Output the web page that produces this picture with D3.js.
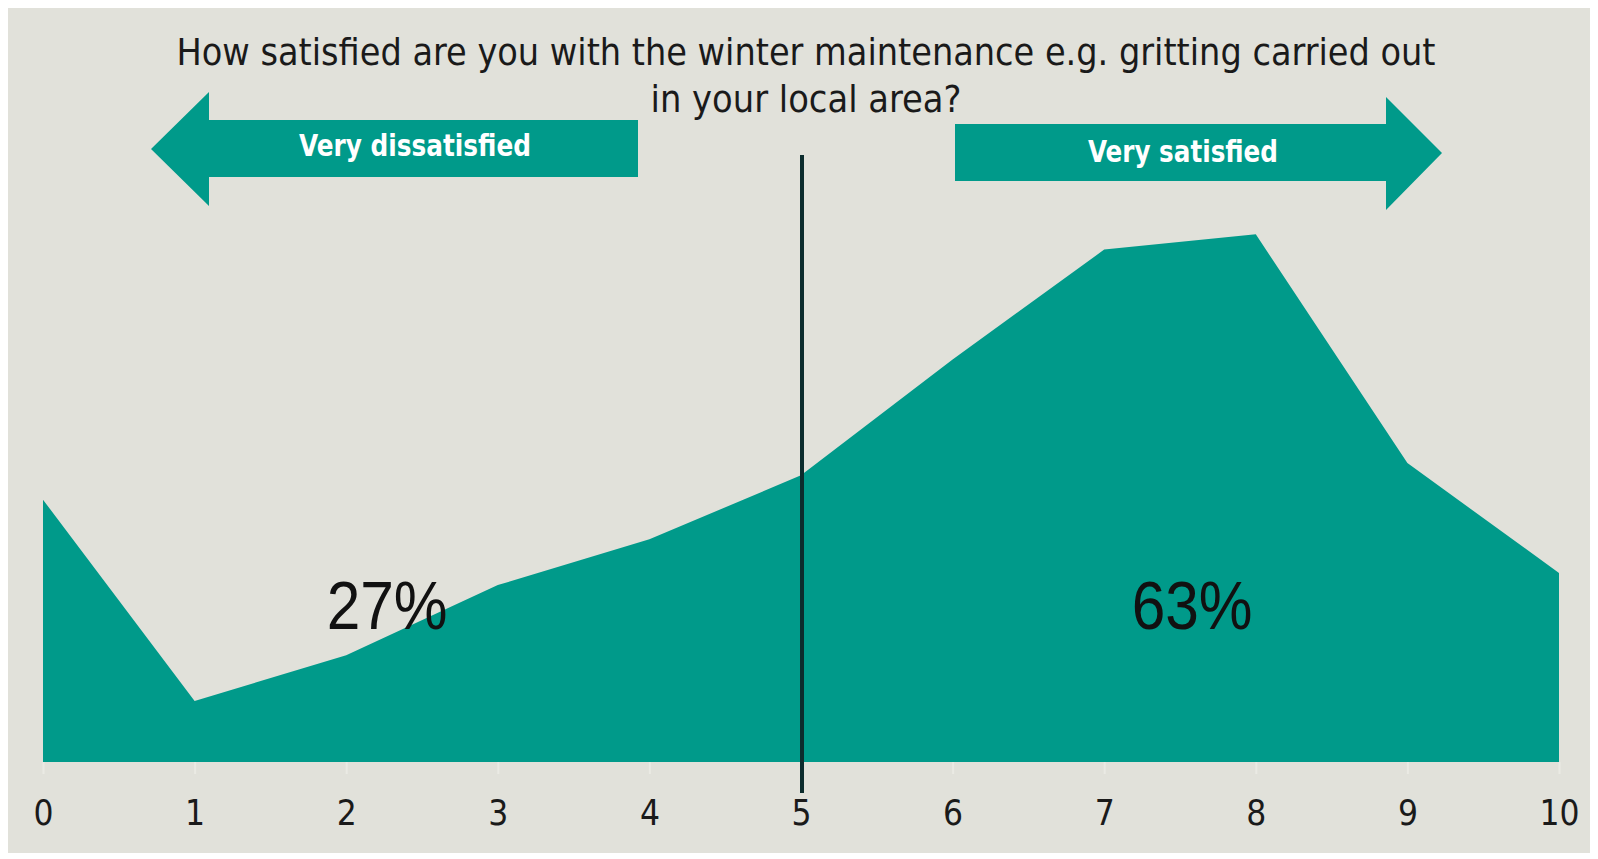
<!DOCTYPE html>
<html>
<head>
<meta charset="utf-8">
<script src="https://cdn.jsdelivr.net/npm/d3@7"></script>
<style>
    body { margin: 0; background: #ffffff; }
    svg { display: block; }
</style>
</head>
<body>
<div id="plot"></div>
<script>
"use strict";

// satisfaction score 0..10 and the share of answers at each score (%)
const scores = [0, 1, 2, 3, 4, 5, 6, 7, 8, 9, 10];
const shares = [8.6, 2.0, 3.5, 5.8, 7.3, 9.4, 13.2, 16.8, 17.3, 9.8, 6.2];
const tickLabels = ["0", "1", "2", "3", "4", "5", "6", "7", "8", "9", "10"];
const titleLines = [
    "How satisfied are you with the winter maintenance e.g. gritting carried out",
    "in your local area?"
];
const arrowLabels = ["Very dissatisfied", "Very satisfied"];
const groupLabels = ["27%", "63%"];
const midScore = 5;

const msm = {
    width: 1598,
    height: 859,
    left: 43,
    right: 1559,
    base: 762,
    top: 152
}

const colors = {
    page: "#e1e1da",
    teal: "#009a8a",
    line: "#0c2c2d",
    text: "#1a1a1a"
}

const condensed = "'Liberation Sans Narrow', 'DejaVu Sans Condensed', 'Roboto Condensed', sans-serif";

let svg;

window.onload = function () {
    svg = d3.select("#plot")
        .append("svg")
        .attr("width", msm.width)
        .attr("height", msm.height);
    main();
}

function main() {
    svg.append("rect")
        .attr("x", 8)
        .attr("y", 8)
        .attr("width", 1582)
        .attr("height", 845)
        .attr("fill", colors.page);

    let x = d3.scaleLinear().domain([0, 10]).range([msm.left, msm.right]);
    let y = d3.scaleLinear().domain([0, 20]).range([msm.base, msm.top]);

    drawArea(x, y);
    drawAxis(x);
    drawMidLine(x);
    drawTitle();
    drawArrows();
    drawGroupLabels(x);
}

function drawArea(x, y) {
    let area = d3.area()
        .x((d, i) => x(scores[i]))
        .y0(y(0))
        .y1(d => y(d));

    svg.append("path")
        .datum(shares)
        .attr("d", area)
        .attr("fill", colors.teal);
}

function drawAxis(x) {
    let axis = d3.axisBottom(x)
        .tickValues(scores)
        .tickFormat((d, i) => tickLabels[i])
        .tickSize(12)
        .tickPadding(26);

    let g = svg.append("g")
        .attr("transform", "translate(0," + msm.base + ")")
        .call(axis);

    g.select(".domain").remove();
    g.selectAll(".tick line")
        .attr("stroke", "#eaeae4")
        .attr("stroke-width", 2);
    g.selectAll(".tick text")
        .attr("fill", colors.text)
        .style("font-family", condensed)
        .style("font-size", "35px");
}

function drawMidLine(x) {
    svg.append("line")
        .attr("x1", x(midScore) + 1)
        .attr("x2", x(midScore) + 1)
        .attr("y1", 155)
        .attr("y2", 793)
        .attr("stroke", colors.line)
        .attr("stroke-width", 4);
}

function drawTitle() {
    let widths = [1259, 311];
    svg.append("g")
        .selectAll("text")
        .data(titleLines)
        .enter()
        .append("text")
        .attr("x", 806)
        .attr("y", (d, i) => 65 + i * 47)
        .attr("text-anchor", "middle")
        .attr("textLength", (d, i) => widths[i])
        .attr("lengthAdjust", "spacingAndGlyphs")
        .attr("fill", colors.text)
        .style("font-family", condensed)
        .style("font-size", "38px")
        .text(d => d);
}

function drawArrows() {
    // left arrow: shaft then head pointing left
    let left = [[638, 120], [209, 120], [209, 92], [151, 149], [209, 206], [209, 177], [638, 177]];
    let right = [[955, 124], [1386, 124], [1386, 97], [1442, 153], [1386, 210], [1386, 181], [955, 181]];
    let shapes = [left, right];

    svg.append("g")
        .selectAll("path")
        .data(shapes)
        .enter()
        .append("path")
        .attr("d", d => "M" + d.join("L") + "Z")
        .attr("fill", colors.teal);

    let centers = [[415, 156], [1183, 162]];
    let widths = [232, 190];
    svg.append("g")
        .selectAll("text")
        .data(arrowLabels)
        .enter()
        .append("text")
        .attr("x", (d, i) => centers[i][0])
        .attr("y", (d, i) => centers[i][1])
        .attr("text-anchor", "middle")
        .attr("textLength", (d, i) => widths[i])
        .attr("lengthAdjust", "spacingAndGlyphs")
        .attr("fill", "#ffffff")
        .style("font-family", condensed)
        .style("font-weight", "bold")
        .style("font-size", "31px")
        .text(d => d);
}

function drawGroupLabels(x) {
    let at = [2.27, 7.58];
    svg.append("g")
        .selectAll("text")
        .data(groupLabels)
        .enter()
        .append("text")
        .attr("x", (d, i) => x(at[i]))
        .attr("y", 629)
        .attr("text-anchor", "middle")
        .attr("textLength", 121)
        .attr("lengthAdjust", "spacingAndGlyphs")
        .attr("fill", "#111111")
        .style("font-family", "'Liberation Sans', Arial, sans-serif")
        .style("font-size", "68px")
        .text(d => d);
}
</script>
</body>
</html>
